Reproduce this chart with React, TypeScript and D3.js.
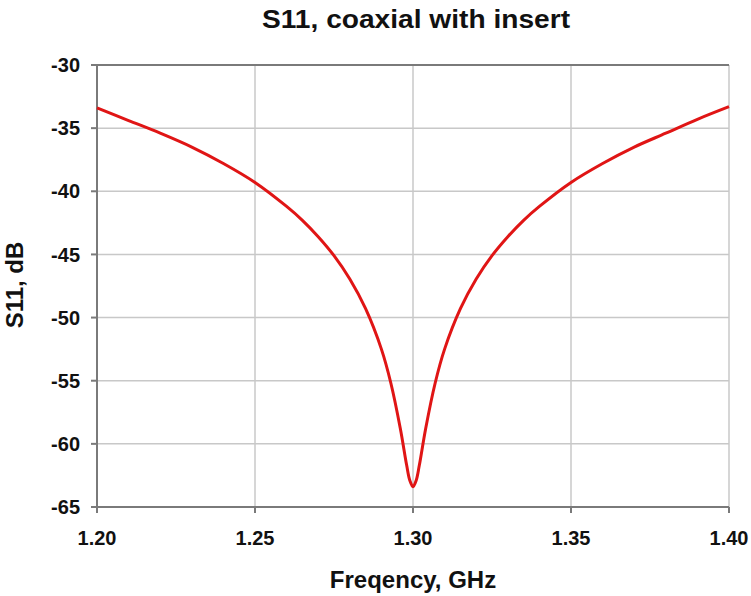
import React from "react";
import * as d3 from "d3";

const freqGHz = [
  1.2, 1.21, 1.22, 1.23, 1.24, 1.25, 1.26, 1.265, 1.27, 1.275, 1.28, 1.285, 1.29, 1.293, 1.296, 1.298, 1.299,
  1.3, 1.301, 1.302, 1.304, 1.307, 1.31, 1.315, 1.32, 1.325, 1.33, 1.335, 1.34, 1.35, 1.36, 1.37, 1.38, 1.39, 1.4,
];
const s11dB = [
  -33.4, -34.4, -35.4, -36.5, -37.8, -39.3, -41.2, -42.3, -43.6, -45.1, -46.95, -49.3, -52.5, -55.2, -58.8, -61.7, -62.9,
  -63.4, -62.9, -61.7, -58.8, -55.2, -52.5, -49.3, -46.95, -45.1, -43.6, -42.3, -41.2, -39.3, -37.8, -36.5, -35.4, -34.3, -33.3,
];
const xTicks = [1.2, 1.25, 1.3, 1.35, 1.4];
const yTicks = [-30, -35, -40, -45, -50, -55, -60, -65];

const W = 751;
const H = 596;
const left = 97;
const right = 729;
const top = 65;
const bottom = 507;
const FONT = "'Liberation Sans', Arial, Helvetica, sans-serif";

export default function App() {
  const x = d3.scaleLinear().domain([1.2, 1.4]).range([left, right]);
  const y = d3.scaleLinear().domain([-65, -30]).range([bottom, top]);
  const data = freqGHz.map((f, i) => [f, s11dB[i]] as [number, number]);
  const line = d3
    .line<[number, number]>()
    .x((d) => x(d[0]))
    .y((d) => y(d[1]))
    .curve(d3.curveCatmullRom.alpha(0.5));

  const grid = "#c8c8c8";
  const axis = "#7a7a7a";

  return (
    <svg
      width={W}
      height={H}
      style={{ position: "absolute", left: 0, top: 0, background: "#fff" }}
      fontFamily={FONT}
    >
      <rect x={0} y={0} width={W} height={H} fill="#fff" />
      {yTicks.map((t) => (
        <line key={"gy" + t} x1={left} x2={right} y1={y(t)} y2={y(t)} stroke={grid} strokeWidth={1.5} />
      ))}
      {xTicks.map((t) => (
        <line key={"gx" + t} x1={x(t)} x2={x(t)} y1={top} y2={bottom} stroke={grid} strokeWidth={1.5} />
      ))}
      <line x1={left} x2={right} y1={top} y2={top} stroke={axis} strokeWidth={2} />
      <line x1={left} x2={left} y1={top} y2={bottom + 6} stroke={axis} strokeWidth={2} />
      <line x1={left - 6} x2={right} y1={bottom} y2={bottom} stroke={axis} strokeWidth={2} />
      {yTicks.map((t) => (
        <line key={"ty" + t} x1={left - 6} x2={left} y1={y(t)} y2={y(t)} stroke={axis} strokeWidth={2} />
      ))}
      {xTicks.map((t) => (
        <line key={"tx" + t} x1={x(t)} x2={x(t)} y1={bottom} y2={bottom + 6} stroke={axis} strokeWidth={2} />
      ))}
      <path d={line(data) || ""} fill="none" stroke="#e01515" strokeWidth={3} />
      {yTicks.map((t) => (
        <text
          key={"ly" + t}
          x={left - 17}
          y={y(t)}
          dy="0.36em"
          textAnchor="end"
          fontSize={20}
          fontWeight="bold"
          fill="#111"
        >
          {String(t)}
        </text>
      ))}
      {xTicks.map((t) => (
        <text
          key={"lx" + t}
          x={x(t)}
          y={545}
          textAnchor="middle"
          fontSize={20}
          fontWeight="bold"
          fill="#111"
        >
          {d3.format(".2f")(t)}
        </text>
      ))}
      <text
        x={416}
        y={28}
        textAnchor="middle"
        fontSize={25}
        fontWeight="bold"
        fill="#111"
        textLength={308}
        lengthAdjust="spacingAndGlyphs"
      >
        S11, coaxial with insert
      </text>
      <text x={413} y={588} textAnchor="middle" fontSize={24} fontWeight="bold" fill="#111">
        Freqency, GHz
      </text>
      <text
        transform={`translate(23,285) rotate(-90)`}
        textAnchor="middle"
        fontSize={24}
        fontWeight="bold"
        fill="#111"
      >
        S11, dB
      </text>
    </svg>
  );
}
